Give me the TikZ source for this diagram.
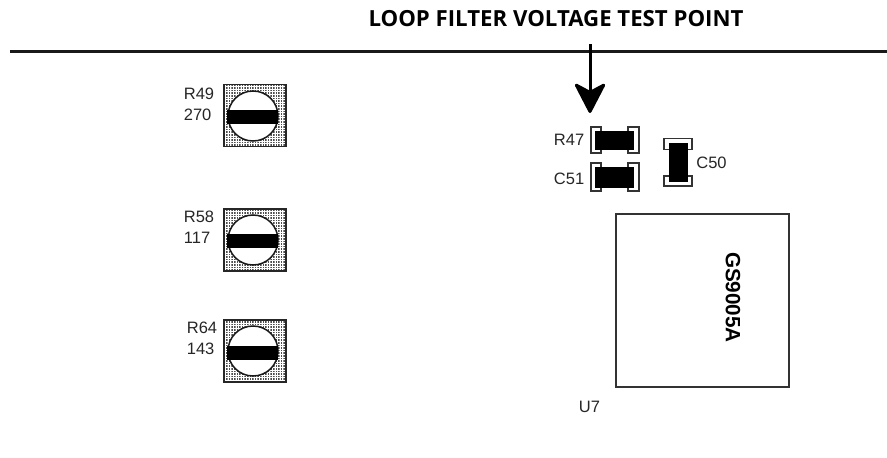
\documentclass[tikz,border=0pt]{standalone}
\usepackage{fontspec}
\setmainfont{Liberation Sans}
\newfontfamily\titlefont{Open Sans}
\usetikzlibrary{positioning,patterns,arrows.meta}
\pgfdeclarepatternformonly{trimdots}{\pgfqpoint{0pt}{0pt}}{\pgfqpoint{1.5pt}{1.5pt}}{\pgfqpoint{2.6pt}{2.6pt}}{
	\pgfpathrectangle{\pgfqpoint{0pt}{0pt}}{\pgfqpoint{1.5pt}{1.5pt}}
	\pgfusepath{fill}
}
\tikzset{
	x=1pt, y=-1pt,
	lbl/.style={inner sep=0pt, align=left, font=\fontsize{16.5}{21}\selectfont, text=black!85},
	trimpad/.style={rectangle, draw=black!85, line width=1.3pt, pattern=trimdots, pattern color=black!70, minimum width=62pt, minimum height=62pt, inner sep=0pt},
	trimdisc/.style={circle, draw=black!90, line width=1.5pt, fill=white, minimum size=50pt, inner sep=0pt},
	trimbar/.style={rectangle, fill=black, minimum width=51pt, minimum height=14pt, inner sep=0pt},
	endcap/.style={rectangle, draw=black!80, line width=1.1pt, fill=white, inner sep=0pt},
	chipbody/.style={rectangle, fill=black, inner sep=0pt},
}
\begin{document}
\begin{tikzpicture}
	\useasboundingbox (0,0) rectangle (887,458);

	\node[inner sep=0pt, font=\titlefont\bfseries\fontsize{22.2}{26}\selectfont] (title) at (556, 19) {LOOP FILTER VOLTAGE TEST POINT};

	% board edge and test point
	\coordinate (edgeL) at (10, 51);
	\coordinate (edgeR) at (887, 51);
	\draw[line width=3pt, black!90] (edgeL) -- (edgeR);
	\coordinate (probe) at (590, 44);
	\coordinate (tip) at (590, 113);
	\draw[line width=3pt, -{Stealth[length=33pt, width=34pt, inset=9pt, round]}] (probe) -- (tip);

	% trimmers
	\node[trimpad] (P49) at (255, 115.5) {};
	\node[trimdisc] (D49) at (253, 116) {};
	\node[trimbar] (B49) at (252.5, 116.5) {};
	\node[lbl, left=9pt of P49.west, yshift=11pt] (L49) {R49\\270};

	\node[trimpad] (P58) at (255, 240) {};
	\node[trimdisc] (D58) at (253, 240) {};
	\node[trimbar] (B58) at (252.5, 240.5) {};
	\node[lbl, left=9pt of P58.west, yshift=12.5pt] (L58) {R58\\117};

	\node[trimpad] (P64) at (255, 351) {};
	\node[trimdisc] (D64) at (253, 351) {};
	\node[trimbar] (B64) at (252.5, 352.5) {};
	\node[lbl, left=6pt of P64.west, yshift=12.5pt] (L64) {R64\\143};

	% small parts
	\node[endcap, minimum width=10pt, minimum height=26pt] (R47a) at (596, 140) {};
	\node[endcap, minimum width=11pt, minimum height=26pt] (R47c) at (633.5, 140) {};
	\node[chipbody, minimum width=39pt, minimum height=19pt] (R47b) at (614.5, 140.5) {};
	\node[lbl, left=6pt of R47a.west] (R47l) {R47};

	\node[endcap, minimum width=10pt, minimum height=28pt] (C51a) at (596, 177) {};
	\node[endcap, minimum width=11pt, minimum height=28pt] (C51c) at (633.5, 177) {};
	\node[chipbody, minimum width=39pt, minimum height=21pt] (C51b) at (614.5, 177.5) {};
	\node[lbl, left=6pt of C51a.west, yshift=-2pt] (C51l) {C51};

	\node[endcap, minimum width=28pt, minimum height=11pt] (C50a) at (678, 144) {};
	\node[endcap, minimum width=28pt, minimum height=10pt] (C50c) at (678, 181) {};
	\node[chipbody, minimum width=19pt, minimum height=39pt] (C50b) at (678.5, 162.5) {};
	\node[lbl, right=8pt of C50b.east] (C50l) {C50};

	% device
	\node[rectangle, draw=black!80, line width=1.1pt, minimum width=173pt, minimum height=173pt, inner sep=0pt] (U7) at (702.5, 300.5) {};
	\node[inner sep=0pt, rotate=-90, font=\bfseries\fontsize{20.7}{24}\selectfont] (part) at (733, 297.5) {GS9005A};
	\node[lbl] (U7l) at (589.5, 407) {U7};
\end{tikzpicture}
\end{document}
